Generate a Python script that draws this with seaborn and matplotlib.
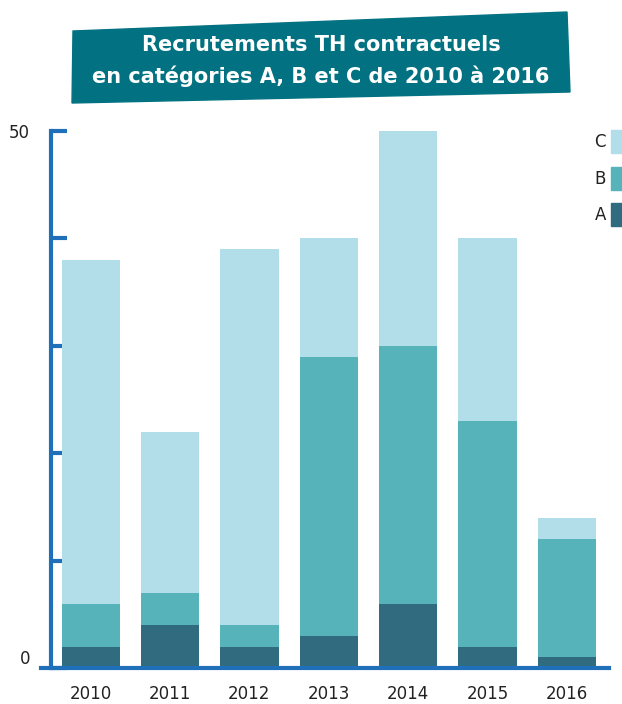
import pandas as pd
import seaborn as sns
import matplotlib.pyplot as plt
from matplotlib.patches import Polygon, Rectangle

# values (stacked: A at the bottom, then B, then C)
years = ['2010', '2011', '2012', '2013', '2014', '2015', '2016']
cat_a = [2, 4, 2, 3, 6, 2, 1]
cat_b = [4, 3, 2, 26, 24, 21, 11]
cat_c = [32, 15, 35, 11, 20, 17, 2]

col_a = '#306b80'
col_b = '#55b3b9'
col_c = '#b1dee9'
axis_col = '#1f70b8'
banner_col = '#027282'

df = pd.DataFrame({'year': years, 'A': cat_a, 'B': cat_b, 'C': cat_c})
df['AB'] = df['A'] + df['B']

sns.set_style('white')
plt.rcParams['font.family'] = ['DejaVu Sans']

fig = plt.figure(figsize=(6.22, 7.04), dpi=100)
ax = fig.add_axes([51 / 622, 36 / 704, 558 / 622, 537 / 704])

# tick marks sit behind the bars
ax.set_axisbelow(True)
bar_kw = dict(x='year', width=0.735, ax=ax, saturation=1, zorder=3,
              linewidth=0, edgecolor='none')
sns.barplot(data=df, y='A', color=col_a, **bar_kw)
sns.barplot(data=df, y='B', bottom=df['A'], color=col_b, **bar_kw)
sns.barplot(data=df, y='C', bottom=df['AB'], color=col_c, **bar_kw)

ax.set_xlim(-0.5, 6.53)
ax.set_ylim(0, 50)
ax.set_xlabel('')
ax.set_ylabel('')

for s in ['top', 'right']:
    ax.spines[s].set_visible(False)
for s in ['left', 'bottom']:
    ax.spines[s].set_color(axis_col)
    ax.spines[s].set_linewidth(3)
    ax.spines[s].set_zorder(4)
ax.spines['bottom'].set_bounds(-0.62, 6.53)

ax.set_yticks([0, 10, 20, 30, 40, 50])
ax.set_yticklabels(['0', '', '', '', '', '50'])
ax.tick_params(axis='y', direction='in', length=11.5, width=3, color=axis_col,
               labelsize=12, labelcolor='#222222', pad=15, left=True)
ax.tick_params(axis='x', length=0, labelsize=12, labelcolor='#222222', pad=12)
ax.get_yticklabels()[0].set_va('bottom')

# legend on the right, top-down C, B, A
leg = [('C', col_c, 142), ('B', col_b, 179), ('A', col_a, 215)]
for lab, c, yc in leg:
    fig.text(606 / 622, 1 - yc / 704, lab, ha='right', va='center',
             fontsize=12, color='#222222')
    fig.add_artist(Rectangle((611 / 622, 1 - (yc + 11) / 704), 11 / 622, 23 / 704,
                             transform=fig.transFigure, color=c))

# skewed title banner
pts = [(73, 31), (567, 12), (570, 92), (72, 103)]
fig.add_artist(Polygon([(x / 622, 1 - y / 704) for x, y in pts], closed=True,
                       transform=fig.transFigure, color=banner_col))
for txt, yc in [('Recrutements TH contractuels', 45),
                ('en catégories A, B et C de 2010 à 2016', 76)]:
    fig.text(321 / 622, 1 - yc / 704, txt, ha='center', va='center',
             color='white', fontsize=15, fontweight='bold')

fig.savefig('out.png', dpi=100)
